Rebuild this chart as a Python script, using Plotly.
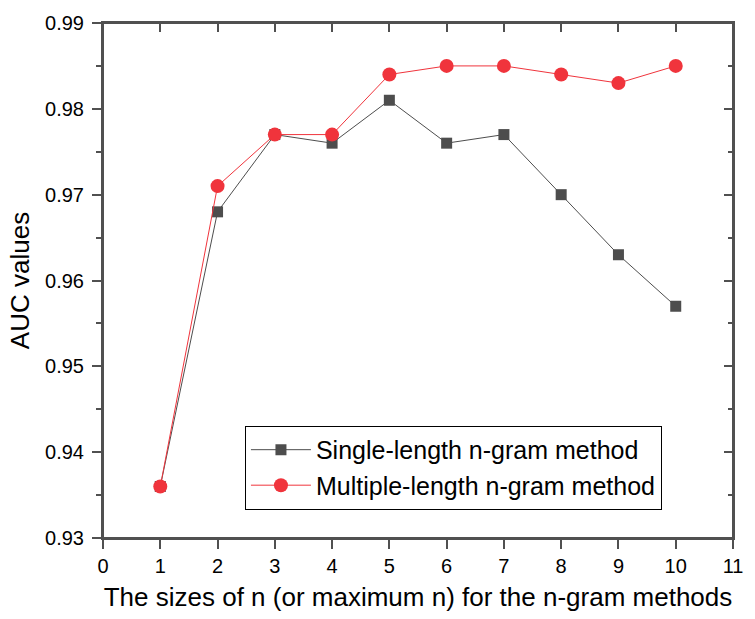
import plotly.graph_objects as go

n_values = [1, 2, 3, 4, 5, 6, 7, 8, 9, 10]
single_auc = [0.936, 0.968, 0.977, 0.976, 0.981, 0.976, 0.977, 0.970, 0.963, 0.957]
multi_auc = [0.936, 0.971, 0.977, 0.977, 0.984, 0.985, 0.985, 0.984, 0.983, 0.985]
x_ticks = list(range(0, 12))
y_ticks = [0.93, 0.94, 0.95, 0.96, 0.97, 0.98, 0.99]

axis_color = "#505050"
font = "Liberation Sans, Arial, sans-serif"

fig = go.Figure()
fig.add_trace(go.Scatter(
    x=n_values, y=single_auc, mode="lines+markers",
    name="Single-length n-gram method",
    line=dict(color="#4d4d4d", width=1),
    marker=dict(symbol="square", size=11, color="#4d4d4d"),
))
fig.add_trace(go.Scatter(
    x=n_values, y=multi_auc, mode="lines+markers",
    name="Multiple-length n-gram method",
    line=dict(color="#f0343c", width=1),
    marker=dict(symbol="circle", size=14, color="#f0343c"),
))
# invisible trace to activate the mirror (top/right) axes
fig.add_trace(go.Scatter(
    x=n_values, y=multi_auc, xaxis="x2", yaxis="y2", mode="markers",
    marker=dict(opacity=0), showlegend=False, hoverinfo="skip",
))

# plot frame (axis box)
fig.add_shape(type="rect", xref="x domain", yref="y domain", x0=0, x1=1, y0=0, y1=1,
              line=dict(color=axis_color, width=2), fillcolor="rgba(0,0,0,0)", layer="above")

fig.update_layout(
    width=755, height=619,
    margin=dict(l=103, r=13, t=23, b=81),
    paper_bgcolor="white", plot_bgcolor="white",
    font=dict(family=font, color="black"),
    showlegend=True,
    legend=dict(
        x=0.225, y=0.218, xanchor="left", yanchor="top",
        bordercolor="black", borderwidth=1.2, bgcolor="white",
        font=dict(size=25, family=font), tracegroupgap=0,
        itemwidth=60,
    ),
    xaxis=dict(
        range=[0, 11], tickvals=x_ticks, ticks="outside", ticklen=9,
        tickcolor=axis_color, tickwidth=2,
        showline=True, linecolor=axis_color, linewidth=2, mirror=True,
        showgrid=False, zeroline=False,
        tickfont=dict(size=20),
        title=dict(text="The sizes of n (or maximum n) for the n-gram methods",
                   font=dict(size=26), standoff=12),
    ),
    yaxis=dict(
        range=[0.93, 0.99], tickvals=y_ticks, tickformat=".2f",
        ticks="outside", ticklen=9, tickcolor=axis_color, tickwidth=2,
        showline=True, linecolor=axis_color, linewidth=2, mirror=True,
        showgrid=False, zeroline=False,
        tickfont=dict(size=20), ticklabelstandoff=4,
        title=dict(text="AUC values", font=dict(size=26), standoff=8),
        minor=dict(dtick=0.005, tick0=0.93, ticks="outside", ticklen=5,
                   tickwidth=2, tickcolor=axis_color),
    ),
    xaxis2=dict(
        range=[0, 11], tickvals=x_ticks, ticks="inside", ticklen=9,
        tickcolor=axis_color, tickwidth=2,
        showline=False, showgrid=False, zeroline=False,
        showticklabels=False, overlaying="x", side="top", anchor="y",
    ),
    yaxis2=dict(
        range=[0.93, 0.99], tickvals=y_ticks, ticks="inside", ticklen=9,
        tickcolor=axis_color, tickwidth=2,
        showline=False, showgrid=False, zeroline=False,
        showticklabels=False, overlaying="y", side="right", anchor="x",
        minor=dict(dtick=0.005, tick0=0.93, ticks="inside", ticklen=5,
                   tickwidth=2, tickcolor=axis_color),
    ),
)

fig.write_html("out.html")
